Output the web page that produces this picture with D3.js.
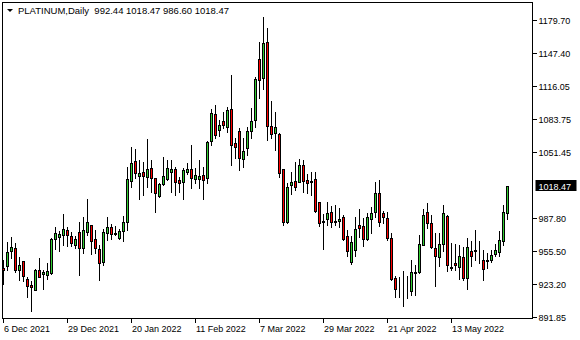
<!DOCTYPE html>
<html>
<head>
<meta charset="utf-8">
<script src="https://cdn.jsdelivr.net/npm/d3@7"></script>
<style>
  html, body { margin: 0; padding: 0; background: #fff; }
  svg { display: block; }
  text { font-family: "Liberation Sans", Arial, sans-serif; font-size: 9px; fill: #000; }
  text.title { font-size: 9.5px; }
</style>
</head>
<body>
<svg id="chart" width="580" height="340"></svg>
<script>
// PLATINUM daily candles
const openP = [939.34,940.60,955.13,958.43,937.40,945.44,928.38,922.86,918.01,937.11,933.23,932.26,934.20,967.15,969.09,971.03,976.16,970.35,961.34,974.23,958.04,973.93,981.01,967.15,957.75,944.86,972.97,978.78,972.97,968.12,974.52,984.21,1023.95,1043.04,1028.50,1032.67,1027.82,1035.96,1026.27,1009.41,1020.46,1025.30,1032.67,1035.29,1024.62,1022.98,1032.67,1035.29,1025.59,1025.59,1029.47,1026.27,1062.42,1088.30,1073.08,1081.52,1076.28,1093.44,1060.19,1072.12,1044.98,1055.35,1072.41,1082.78,1141.61,1123.19,1158.08,1076.96,1069.89,1069.21,1035.00,983.63,1019.49,1023.66,1022.98,1039.16,1024.62,1023.66,1025.59,1003.30,984.60,986.53,993.32,984.89,984.89,988.76,969.67,944.86,956.10,981.01,980.04,967.15,986.53,993.90,1012.32,992.93,987.50,968.12,929.35,919.95,916.37,915.78,916.37,933.81,935.17,961.63,993.32,982.66,958.43,949.71,962.60,989.73,940.01,943.89,940.01,949.71,929.35,955.81,955.52,951.93,947.09,945.44,947.09,952.61,954.55,964.82,992.44];
const highP = [947.09,964.24,969.09,963.27,949.71,946.12,930.32,926.74,938.08,949.03,937.40,943.89,967.73,978.78,974.52,991.38,978.78,973.55,969.67,983.92,989.05,1006.21,981.01,975.49,961.63,976.84,988.47,981.30,980.04,976.84,989.73,1037.52,1056.90,1054.38,1044.01,1042.36,1064.07,1044.01,1026.27,1021.43,1047.21,1044.01,1044.01,1037.52,1027.82,1035.96,1041.39,1058.55,1035.96,1044.01,1037.52,1062.42,1093.15,1097.31,1082.78,1090.82,1095.67,1126.39,1065.04,1074.73,1065.04,1076.28,1094.12,1124.74,1158.66,1182.31,1171.65,1101.48,1090.82,1069.89,1035.00,1022.01,1032.09,1041.78,1044.69,1044.01,1030.15,1032.67,1032.67,1003.30,991.67,1003.59,999.42,1000.39,997.20,990.70,976.16,969.67,989.05,996.23,987.50,992.93,998.75,1022.98,1024.62,994.87,993.90,972.97,930.90,930.32,935.75,931.58,947.09,942.24,971.32,996.23,1002.04,990.70,972.97,972.97,1000.39,990.70,963.27,962.60,961.63,959.40,968.12,964.82,976.16,964.82,956.78,953.58,956.78,962.60,974.52,1000.39,1018.47];
const lowP = [923.83,937.40,948.74,935.17,927.03,926.74,910.55,896.98,917.33,929.93,918.69,928.67,933.52,957.75,955.13,961.63,959.98,959.98,958.43,932.55,953.58,971.32,952.90,953.58,927.03,941.56,966.47,967.15,971.32,967.44,965.50,976.16,1018.13,1026.27,1006.21,1010.09,1018.13,1013.29,993.90,1008.44,1019.78,1024.62,1013.29,1010.09,1013.29,1006.21,1030.44,1016.58,1021.43,1016.58,1006.21,1021.43,1058.55,1065.04,1067.56,1074.73,1071.44,1039.16,1045.66,1034.32,1037.52,1048.85,1065.04,1076.28,1103.81,1112.53,1063.39,1065.04,1053.70,1027.82,981.01,982.66,1011.06,1014.93,1022.98,1012.70,1011.73,1010.09,993.90,980.04,957.46,981.01,978.78,981.01,978.78,966.47,950.29,943.21,950.29,969.09,960.66,966.47,972.97,989.05,979.36,982.66,966.47,927.70,910.94,910.55,901.83,909.97,913.17,913.17,934.20,961.63,977.81,958.43,921.89,940.60,955.13,935.75,937.40,937.40,928.38,927.70,918.69,940.60,947.09,943.89,927.03,939.04,944.47,950.97,950.29,961.63,986.60];
const closeP = [937.40,954.55,959.40,936.72,941.95,931.29,921.60,920.63,937.11,930.32,935.46,936.43,967.15,972.97,971.61,976.84,971.03,962.89,967.44,958.04,976.16,983.92,964.82,958.43,943.89,973.93,978.78,972.29,972.29,974.90,984.21,1025.30,1041.39,1031.70,1031.70,1028.50,1035.00,1026.27,1011.73,1020.46,1028.50,1035.96,1035.29,1022.98,1022.01,1034.32,1035.29,1026.85,1029.18,1028.79,1024.62,1061.74,1089.27,1068.24,1077.93,1077.93,1092.47,1058.55,1056.32,1045.66,1053.02,1072.12,1081.81,1122.22,1121.54,1157.11,1077.25,1069.21,1075.70,1031.12,983.63,1017.55,1022.69,1017.55,1039.16,1023.95,1022.01,1022.98,994.87,982.66,983.92,992.35,983.63,983.63,986.83,967.44,955.13,964.24,976.84,977.81,967.15,988.47,992.93,1012.32,984.21,988.47,968.12,928.38,918.69,919.66,916.37,915.78,935.17,935.17,962.60,990.70,982.66,959.40,950.29,962.60,992.35,942.24,938.66,941.56,950.97,929.35,959.40,950.97,956.78,951.93,938.08,947.09,951.26,956.10,966.47,993.32,1018.47];

const priceTicks = [1179.70, 1147.40, 1116.05, 1083.75, 1051.45, 987.80, 955.50, 923.20, 891.85];
const dateLabels = ["6 Dec 2021", "29 Dec 2021", "20 Jan 2022", "11 Feb 2022", "7 Mar 2022", "29 Mar 2022", "21 Apr 2022", "13 May 2022"];
const dateBars = [0, 16, 32, 48, 64, 80, 96, 112];

const symbol = "PLATINUM,Daily";
const lastBar = openP.length - 1;

const svg = d3.select("#chart");

// bar index -> pixel column, price -> y
const x = d3.scaleLinear().domain([0, lastBar]).range([3, 3 + 4 * lastBar]);
const y = d3.scaleLinear().domain([891.85, 1179.70]).range([316.7, 20]);

const frameL = 2, frameT = 2, frameR = 532, frameB = 318;

// chart frame
svg.append("rect")
    .attr("x", frameL + 0.5).attr("y", frameT + 0.5)
    .attr("width", frameR - frameL).attr("height", frameB - frameT)
    .attr("fill", "none").attr("stroke", "#000")
    .attr("shape-rendering", "crispEdges");

// price scale
const axisR = svg.append("g").attr("transform", `translate(${frameR + 0.5},0)`);
axisR.selectAll("line.tick")
    .data(priceTicks).enter().append("line")
    .attr("class", "tick")
    .attr("x1", 0).attr("x2", 4)
    .attr("y1", d => Math.round(y(d)) + 0.5)
    .attr("y2", d => Math.round(y(d)) + 0.5)
    .attr("stroke", "#000").attr("shape-rendering", "crispEdges");
axisR.selectAll("text")
    .data(priceTicks).enter().append("text")
    .attr("x", 6)
    .attr("y", d => Math.round(y(d)) + 3.5)
    .text(d => d3.format(".2f")(d));

// current price marker
const lastClose = closeP[lastBar];
const ly = Math.round(y(lastClose));
axisR.append("rect")
    .attr("x", 3).attr("y", ly - 6)
    .attr("width", 41).attr("height", 11)
    .attr("fill", "#000");
axisR.append("text")
    .attr("x", 6).attr("y", ly + 3.5)
    .style("fill", "#fff")
    .text(d3.format(".2f")(lastClose));

// time scale
const axisB = svg.append("g").attr("transform", `translate(0,${frameB + 0.5})`);
axisB.selectAll("line")
    .data(dateBars).enter().append("line")
    .attr("x1", d => Math.round(x(d)) + 0.5).attr("x2", d => Math.round(x(d)) + 0.5)
    .attr("y1", 0).attr("y2", 4)
    .attr("stroke", "#000").attr("shape-rendering", "crispEdges");
axisB.selectAll("text")
    .data(dateBars).enter().append("text")
    .attr("x", d => Math.round(x(d)) + 1)
    .attr("y", 13.5)
    .text((d, i) => dateLabels[i]);

// candles
const plot = svg.append("g").attr("shape-rendering", "crispEdges");
const bars = d3.range(openP.length);

plot.selectAll("line.wick")
    .data(bars).enter().append("line")
    .attr("class", "wick")
    .attr("x1", i => Math.round(x(i)) + 0.5).attr("x2", i => Math.round(x(i)) + 0.5)
    .attr("y1", i => Math.round(y(highP[i])))
    .attr("y2", i => Math.round(y(lowP[i])) + 1)
    .attr("stroke", "#000");

plot.selectAll("rect.body")
    .data(bars).enter().append("rect")
    .attr("class", "body")
    .attr("x", i => Math.round(x(i)) - 0.5)
    .attr("y", i => Math.round(y(Math.max(openP[i], closeP[i]))) + 0.5)
    .attr("width", 2)
    .attr("height", i => Math.round(y(Math.min(openP[i], closeP[i]))) - Math.round(y(Math.max(openP[i], closeP[i]))))
    .attr("fill", i => closeP[i] >= openP[i] ? "#32cd32" : "#ff0000")
    .attr("stroke", "#000");

// header
svg.append("path")
    .attr("d", "M7,9 L13,9 L10,12 Z")
    .attr("fill", "#000");
svg.append("text")
    .attr("class", "title")
    .attr("x", 18).attr("y", 14)
    .attr("xml:space", "preserve")
    .text(`${symbol}  ${openP[lastBar].toFixed(2)} ${highP[lastBar].toFixed(2)} ${lowP[lastBar].toFixed(2)} ${closeP[lastBar].toFixed(2)}`);
</script>
</body>
</html>
